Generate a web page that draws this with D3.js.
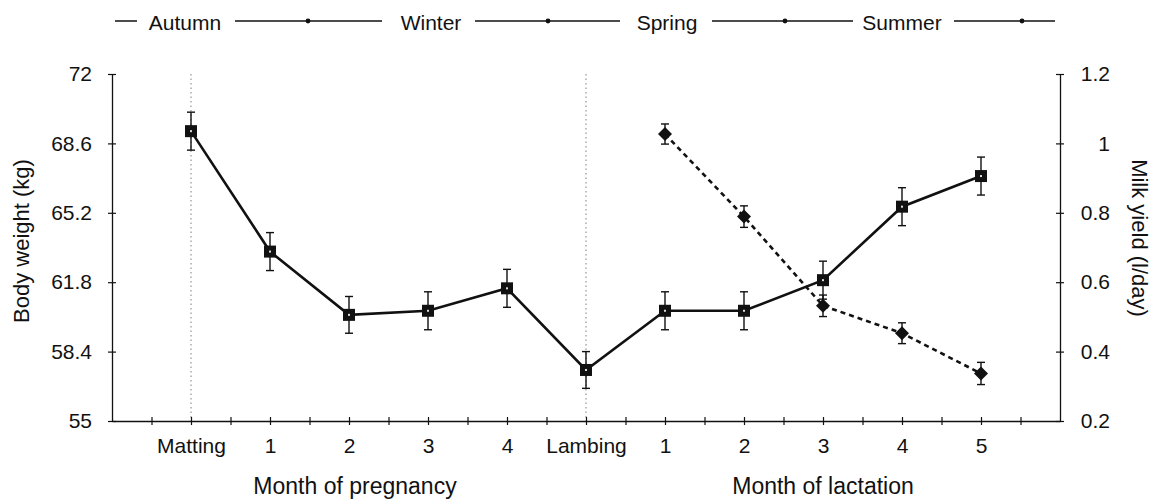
<!DOCTYPE html>
<html>
<head>
<meta charset="utf-8">
<script src="https://cdn.jsdelivr.net/npm/d3@7"></script>
<style>
  body { margin: 0; background: #fff; }
  text { font-family: "Liberation Sans", Arial, sans-serif; fill: #111; }
</style>
</head>
<body>
<svg id="chart" width="1158" height="504"></svg>
<script>
// categories along the x axis
const categories = ['Matting', '1', '2', '3', '4', 'Lambing', '1', '2', '3', '4', '5'];

// body weight (kg), left axis, one per category
const bodyWeight = [69.2, 63.3, 60.2, 60.4, 61.5, 57.5, 60.4, 60.4, 61.9, 65.5, 67.0];
const bodyWeightErr = [0.93, 0.93, 0.9, 0.93, 0.93, 0.9, 0.93, 0.93, 0.93, 0.93, 0.93];

// milk yield (l/day), right axis, lactation months only
const milkIndex = [6, 7, 8, 9, 10];
const milkYield = [1.027, 0.789, 0.532, 0.453, 0.337];
const milkErr = [0.029, 0.031, 0.031, 0.03, 0.032];

const leftTicks = [55, 58.4, 61.8, 65.2, 68.6, 72];
const rightTicks = [0.2, 0.4, 0.6, 0.8, 1, 1.2];
const seasons = ['Autumn', 'Winter', 'Spring', 'Summer'];

const svg = d3.select('#chart');

const plotLeft = 112, plotRight = 1060, plotTop = 74, plotBottom = 421;

// one slot of padding on each side of the 11 categories
const x = d3.scaleLinear().domain([-1, 11]).range([plotLeft, plotRight]);
const yL = d3.scaleLinear().domain([55, 72]).range([plotBottom, plotTop]);
const yR = d3.scaleLinear().domain([0.2, 1.2]).range([plotBottom, plotTop]);

// dotted guides at mating and lambing
[0, 5].forEach(i => {
    svg.append('line')
        .attr('x1', x(i)).attr('x2', x(i))
        .attr('y1', plotTop).attr('y2', plotBottom)
        .attr('stroke', '#aaa')
        .attr('stroke-width', 1.5)
        .attr('stroke-dasharray', '1.5,3');
});

// left axis
const gL = svg.append('g').attr('transform', `translate(${plotLeft},0)`)
    .call(d3.axisLeft(yL).tickValues(leftTicks).tickSize(0).tickPadding(20)
        .tickFormat(d => d3.format('')(d)));
gL.select('.domain').attr('stroke', '#111').attr('stroke-width', 1.3);
gL.selectAll('text').style('font-size', '21px');
gL.selectAll('.tick').append('line')
    .attr('x1', -4).attr('x2', 4).attr('stroke', '#111').attr('stroke-width', 1.2);

// right axis, labels right-aligned like the original
const gR = svg.append('g').attr('transform', `translate(${plotRight},0)`)
    .call(d3.axisRight(yR).tickValues(rightTicks).tickSize(0)
        .tickFormat(d => d3.format('')(d)));
gR.select('.domain').attr('stroke', '#111').attr('stroke-width', 1.3);
gR.selectAll('text').style('font-size', '21px')
    .attr('x', 50).attr('text-anchor', 'end');
gR.selectAll('.tick').append('line')
    .attr('x1', -4).attr('x2', 4).attr('stroke', '#111').attr('stroke-width', 1.2);

// bottom axis, ticks every half slot
const halfTicks = d3.range(-0.5, 11, 0.5);
const gB = svg.append('g').attr('transform', `translate(0,${plotBottom})`)
    .call(d3.axisBottom(x).tickValues(halfTicks).tickSize(0)
        .tickFormat(d => Number.isInteger(d) && d >= 0 && d <= 10 ? categories[d] : ''));
gB.select('.domain').attr('stroke', '#111').attr('stroke-width', 1.3);
gB.selectAll('text').style('font-size', '21px')
    .attr('y', 32).attr('dy', 0);
gB.selectAll('.tick').append('line')
    .attr('y1', -4).attr('y2', 4).attr('stroke', '#111').attr('stroke-width', 1.2);

// axis titles
svg.append('text')
    .attr('transform', `translate(29,241) rotate(-90)`)
    .attr('text-anchor', 'middle')
    .style('font-size', '22px')
    .text('Body weight (kg)');
svg.append('text')
    .attr('transform', `translate(1132,238) rotate(90)`)
    .attr('text-anchor', 'middle')
    .style('font-size', '22px')
    .text('Milk yield (l/day)');
svg.append('text')
    .attr('x', x(2) + 6).attr('y', 494)
    .attr('text-anchor', 'middle').style('font-size', '23px')
    .text('Month of pregnancy');
svg.append('text')
    .attr('x', x(8)).attr('y', 494)
    .attr('text-anchor', 'middle').style('font-size', '23px')
    .text('Month of lactation');

// body weight line
const bw = bodyWeight.map((v, i) => ({ i, v, e: bodyWeightErr[i] }));
svg.append('path')
    .datum(bw)
    .attr('fill', 'none').attr('stroke', '#111').attr('stroke-width', 2.6)
    .attr('d', d3.line().x(d => x(d.i)).y(d => yL(d.v)));

// milk yield line
const my = milkYield.map((v, k) => ({ i: milkIndex[k], v, e: milkErr[k] }));
svg.append('path')
    .datum(my)
    .attr('fill', 'none').attr('stroke', '#111').attr('stroke-width', 2.6)
    .attr('stroke-dasharray', '5,4')
    .attr('d', d3.line().x(d => x(d.i)).y(d => yR(d.v)));

// error bars
function errorBars(data, y) {
    const g = svg.append('g').attr('stroke', '#111').attr('stroke-width', 1.4);
    data.forEach(d => {
        const cx = x(d.i), y1 = y(d.v + d.e), y2 = y(d.v - d.e);
        g.append('line').attr('x1', cx).attr('x2', cx).attr('y1', y1).attr('y2', y2);
        g.append('line').attr('x1', cx - 4).attr('x2', cx + 4).attr('y1', y1).attr('y2', y1);
        g.append('line').attr('x1', cx - 4).attr('x2', cx + 4).attr('y1', y2).attr('y2', y2);
    });
}
errorBars(bw, yL);
errorBars(my, yR);

// square markers
svg.append('g').selectAll('rect').data(bw).join('rect')
    .attr('x', d => x(d.i) - 6).attr('y', d => yL(d.v) - 6)
    .attr('width', 12).attr('height', 12).attr('fill', '#111');
svg.append('g').selectAll('rect').data(bw).join('rect')
    .attr('x', d => x(d.i) - 1).attr('y', d => yL(d.v) - 1)
    .attr('width', 2).attr('height', 2).attr('fill', '#ddd');

// diamond markers
svg.append('g').selectAll('path').data(my).join('path')
    .attr('transform', d => `translate(${x(d.i)},${yR(d.v)})`)
    .attr('d', 'M0,-7L7,0L0,7L-7,0Z')
    .attr('fill', '#111');

// season legend across the top
const legendY = 21;
const legend = svg.append('g').attr('stroke', '#111').attr('stroke-width', 1.5);
legend.append('line').attr('x1', 115).attr('x2', 137).attr('y1', legendY).attr('y2', legendY);
const segs = [[235, 382], [475, 620], [712, 853], [954, 1055]];
const dots = [308, 548, 785, 1022];
segs.forEach((s, k) => {
    legend.append('line').attr('x1', s[0]).attr('x2', s[1]).attr('y1', legendY).attr('y2', legendY);
    legend.append('circle').attr('cx', dots[k]).attr('cy', legendY).attr('r', 2.4)
        .attr('fill', '#111').attr('stroke', 'none');
});
const labelX = [185, 431, 667, 902];
svg.append('g').selectAll('text').data(seasons).join('text')
    .attr('x', (d, k) => labelX[k]).attr('y', 30)
    .attr('text-anchor', 'middle').style('font-size', '21px')
    .text(d => d);
</script>
</body>
</html>
